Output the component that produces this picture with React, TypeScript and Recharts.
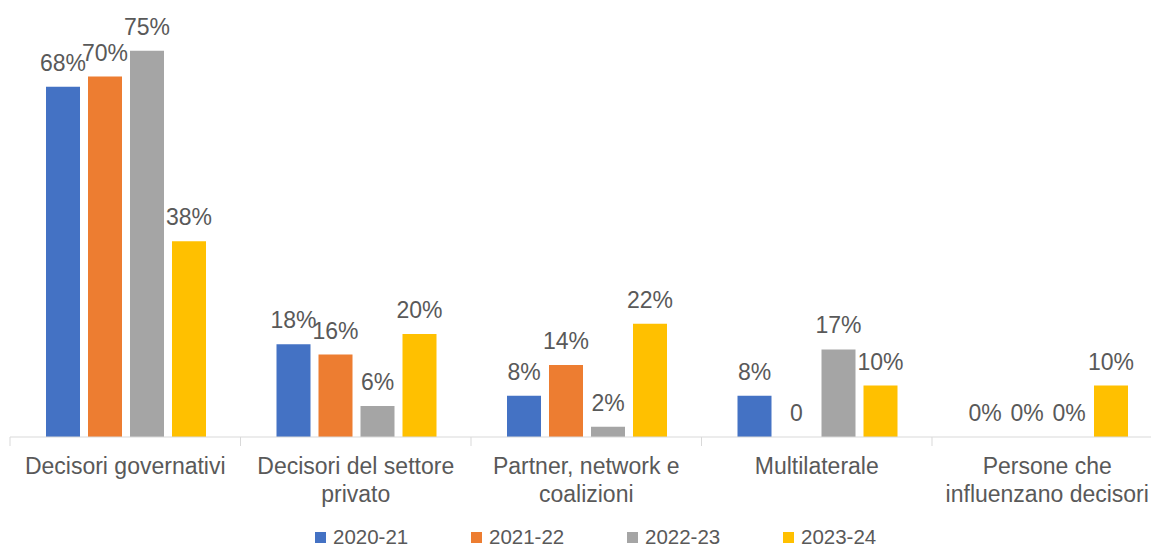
import React from 'react';
import { BarChart, Bar, XAxis, YAxis, Legend, LabelList } from 'recharts';

// tick labels, already split into the lines shown under the axis
const categories = [
  ['Decisori governativi'],
  ['Decisori del settore', 'privato'],
  ['Partner, network e', 'coalizioni'],
  ['Multilaterale'],
  ['Persone che', 'influenzano decisori'],
];

const years = ['2020-21', '2021-22', '2022-23', '2023-24'];
const values2021 = [68, 18, 8, 8, 0];
const values2122 = [70, 16, 14, 0, 0];
const values2223 = [75, 6, 2, 17, 0];
const values2324 = [38, 20, 22, 10, 10];
// labels written without the % sign in the original (series, category index)
const plainLabels: Record<string, number[]> = { '2021-22': [3] };

const colors = ['#4472C4', '#ED7D31', '#A5A5A5', '#FFC000'];
const seriesValues = [values2021, values2122, values2223, values2324];

const data = categories.map((lines, i) => {
  const row: Record<string, string | number> = { name: lines.join('|') };
  years.forEach((y, s) => {
    row[y] = seriesValues[s][i];
  });
  return row;
});

const FONT = '"Liberation Sans", Arial, sans-serif';
const TEXT = '#595959';

const CategoryTick = (props: any) => {
  const { x, y, payload } = props;
  const half = payload && payload.offset ? payload.offset : 115.25;
  const lines = String(payload.value).split('|');
  return (
    <g>
      <line x1={x - half} x2={x - half} y1={y - 8} y2={y + 1} stroke="#d9d9d9" />
      <text x={x} y={y + 29} textAnchor="middle" fill={TEXT} style={{ fontSize: 23, fontFamily: FONT }}>
        {lines.map((l, i) => (
          <tspan key={i} x={x} dy={i === 0 ? 0 : 27.5}>
            {l}
          </tspan>
        ))}
      </text>
    </g>
  );
};

const makeLabel = (series: string) => (props: any) => {
  const { x, y, width, value, index } = props;
  const plain = (plainLabels[series] || []).includes(index);
  return (
    <text
      x={x + width / 2}
      y={y - 16}
      textAnchor="middle"
      fill={TEXT}
      style={{ fontSize: 23, fontFamily: FONT }}
    >
      {plain ? `${value}` : `${value}%`}
    </text>
  );
};

const LegendContent = () => (
  <div style={{ display: 'flex', paddingLeft: 315, paddingTop: 10, height: 20, fontFamily: FONT }}>
    {years.map((y, i) => (
      <div key={y} style={{ width: 156, display: 'flex', alignItems: 'center' }}>
        <span style={{ width: 11, height: 11, background: colors[i], display: 'inline-block', marginRight: 7 }} />
        <span style={{ fontSize: 20.5, color: TEXT, lineHeight: '20px' }}>{y}</span>
      </div>
    ))}
  </div>
);

export default function App() {
  return (
    <div style={{ position: 'absolute', left: 0, top: 0, width: 1151, height: 547, overflow: 'hidden', background: '#fff' }}>
      <BarChart
        width={1180}
        height={547}
        data={data}
        margin={{ top: 25, right: 17.5, bottom: 0, left: 10 }}
        barCategoryGap={36}
        barGap={8}
      >
        <XAxis
          dataKey="name"
          height={80}
          tickLine={false}
          tickSize={8}
          tickMargin={0}
          axisLine={{ stroke: '#d9d9d9' }}
          tick={<CategoryTick />}
          interval={0}
        />
        <YAxis hide domain={[0, 80]} />
        <Legend verticalAlign="bottom" content={<LegendContent />} wrapperStyle={{ left: 0, width: 1180 }} />
        {years.map((y, i) => (
          <Bar key={y} dataKey={y} fill={colors[i]} minPointSize={0.01} isAnimationActive={false}>
            <LabelList dataKey={y} content={makeLabel(y)} />
          </Bar>
        ))}
      </BarChart>
    </div>
  );
}
